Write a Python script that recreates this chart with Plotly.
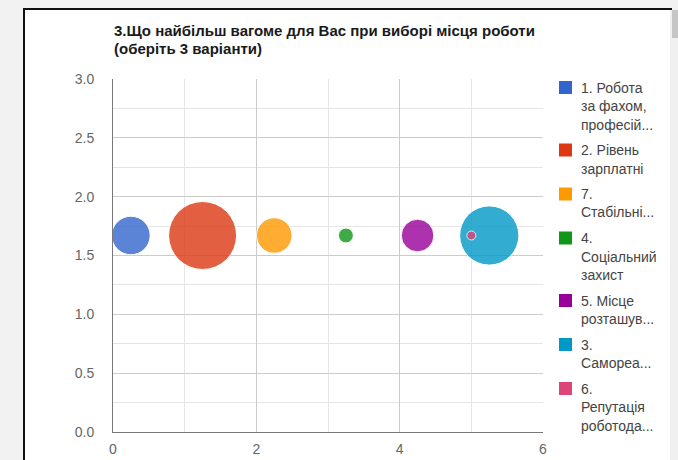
import plotly.graph_objects as go

# ---- data ----
title_lines = ["3.Що найбільш вагоме для Вас при виборі місця роботи", "(оберіть 3 варіанти)"]
categories = [
    "1. Робота<br>за фахом,<br>професій...",
    "2. Рівень<br>зарплатні",
    "7.<br>Стабільні...",
    "4.<br>Соціальний<br>захист",
    "5. Місце<br>розташув...",
    "3.<br>Самореа...",
    "6.<br>Репутація<br>роботода...",
]
x_values = [0.25, 1.25, 2.25, 3.25, 4.25, 5.25, 5.0]
y_values = [1.67, 1.67, 1.67, 1.67, 1.67, 1.67, 1.67]
responses = [11, 21, 10, 3, 9, 18, 1]
colors = ["#3366cc", "#dc3912", "#ff9900", "#109618", "#990099", "#0099c6", "#dd4477"]
x_tick_values = [0, 2, 4, 6]
y_tick_values = [0.0, 0.5, 1.0, 1.5, 2.0, 2.5, 3.0]

# ---- geometry ----
W, H = 678, 460
L, R, T, B = 113, 135, 79, 28
PW, PH = W - L - R, H - T - B


def px(x):
    return (x - L) / PW


def py(y):
    return (H - B - y) / PH


FONT = "Arial, 'Liberation Sans', sans-serif"

# size scale (radius in px, linear in value)
R_MIN, R_MAX = 4.5, 34.0
vmin, vmax = min(responses), max(responses)
diam = [2 * (R_MIN + (v - vmin) / (vmax - vmin) * (R_MAX - R_MIN)) for v in responses]

fig = go.Figure()
for i, name in enumerate(categories):
    fig.add_trace(go.Scatter(
        x=[x_values[i]], y=[y_values[i]], mode="markers",
        name=name.replace("<br>", " "),
        marker=dict(size=[diam[i]], color=colors[i], opacity=0.8,
                    line=dict(color="white", width=1)),
        showlegend=False,
        customdata=[responses[i]],
        hovertemplate=name.replace("<br>", " ") + ": %{customdata}<extra></extra>",
    ))

shapes = []
# outer frame / panel
shapes.append(dict(type="rect", xref="paper", yref="paper", layer="below",
                   x0=px(23), x1=px(672), y0=py(H + 5), y1=py(8),
                   fillcolor="#111111", line=dict(width=0)))
shapes.append(dict(type="rect", xref="paper", yref="paper", layer="below",
                   x0=px(25), x1=px(672), y0=py(H + 5), y1=py(10),
                   fillcolor="#ffffff", line=dict(width=0)))
# scrollbar
shapes.append(dict(type="rect", xref="paper", yref="paper", layer="below",
                   x0=px(670), x1=px(679), y0=py(H + 5), y1=py(10),
                   fillcolor="#f0f0f0", line=dict(width=0)))
shapes.append(dict(type="rect", xref="paper", yref="paper", layer="below",
                   x0=px(672), x1=px(679), y0=py(38), y1=py(10),
                   fillcolor="#c6c6c6", line=dict(width=0)))

annotations = []
# title (two lines)
for k, line in enumerate(title_lines):
    annotations.append(dict(xref="paper", yref="paper", x=px(112), y=py(30 + k * 18.5),
                            xanchor="left", yanchor="middle", showarrow=False,
                            text="<b>" + line + "</b>",
                            font=dict(family=FONT, size=15, color="#1a1a1a")))

# manual legend
LINE_H = 18.5
GAP = 7
y_cur = 87.5
for i, name in enumerate(categories):
    lines = name.split("<br>")
    shapes.append(dict(type="rect", xref="paper", yref="paper",
                       x0=px(559), x1=px(572), y0=py(y_cur + 6.5), y1=py(y_cur - 6.5),
                       fillcolor=colors[i], line=dict(width=0)))
    for k, line in enumerate(lines):
        annotations.append(dict(xref="paper", yref="paper", x=px(579),
                                y=py(y_cur + k * LINE_H),
                                xanchor="left", yanchor="middle", align="left",
                                showarrow=False, text=line,
                                font=dict(family=FONT, size=14, color="#444444")))
    y_cur += len(lines) * LINE_H + GAP

fig.update_layout(
    width=W, height=H,
    margin=dict(l=L, r=R, t=T, b=B, pad=0, autoexpand=False),
    paper_bgcolor="#f2f2f2", plot_bgcolor="#ffffff",
    font=dict(family=FONT, size=14, color="#444444"),
    shapes=shapes, annotations=annotations,
    showlegend=False,
)
fig.update_xaxes(range=[0, 6], tickvals=x_tick_values, ticks="", showline=True,
                 linecolor="#777777", linewidth=1, zeroline=False, automargin=False,
                 showgrid=True, gridcolor="#cccccc", gridwidth=1,
                 minor=dict(dtick=1, showgrid=True, gridcolor="#e6e6e6"),
                 ticklabelstandoff=4, tickfont=dict(size=14, color="#666666"))
fig.update_yaxes(range=[0, 3], tickvals=y_tick_values, tickformat=".1f", ticks="",
                 showline=True, linecolor="#777777", linewidth=1, zeroline=False,
                 automargin=False,
                 showgrid=True, gridcolor="#cccccc", gridwidth=1,
                 minor=dict(dtick=0.25, showgrid=True, gridcolor="#e6e6e6"),
                 ticklabelstandoff=15, tickfont=dict(size=14, color="#666666"))

fig.write_html("out.html", config={"displayModeBar": False},
               post_script="document.body.style.margin='0';document.body.style.overflow='hidden';")
